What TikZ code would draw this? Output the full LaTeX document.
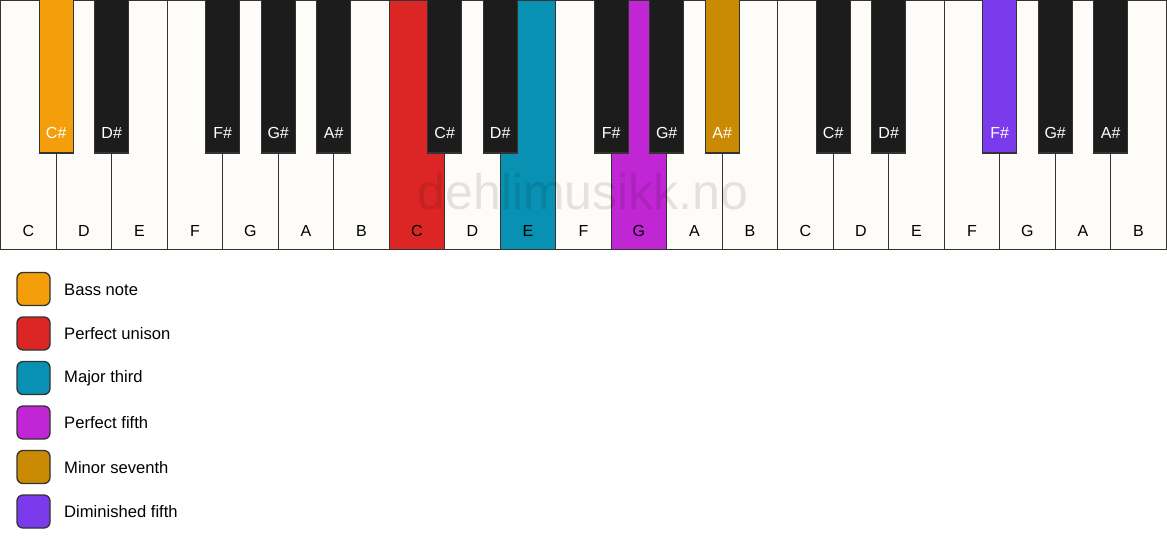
\documentclass[tikz,border=0pt]{standalone}
\usepackage{fontspec}
\setmainfont{Liberation Sans}
\definecolor{keywhite}{HTML}{FDFCF8}
\definecolor{keyblack}{HTML}{1C1C1C}
\definecolor{keyline}{HTML}{333333}
\definecolor{bass}{HTML}{F59E0B}
\definecolor{unison}{HTML}{DC2626}
\definecolor{third}{HTML}{0891B2}
\definecolor{fifth}{HTML}{C026D3}
\definecolor{seventh}{HTML}{CA8A04}
\definecolor{dimfifth}{HTML}{7C3AED}
\begin{document}
\begin{tikzpicture}[x=1pt,y=-1pt,
  whitekey/.style={draw=keyline, line width=1.4pt, minimum width=55.5pt, minimum height=249.5pt, anchor=north west, inner sep=0pt, outer sep=0pt},
  blackkey/.style={draw=keyline, line width=1.4pt, minimum width=34pt, minimum height=154pt, anchor=north, inner sep=0pt, outer sep=0pt},
  wlabel/.style={font=\fontsize{16}{18}\selectfont, text=black, inner sep=0pt},
  blabel/.style={font=\fontsize{16}{18}\selectfont, text=white, inner sep=0pt},
  legbox/.style={draw=keyline, line width=1.3pt, rounded corners=6pt, minimum width=33pt, minimum height=33pt, inner sep=0pt},
  legtext/.style={font=\fontsize{16.6}{19}\selectfont, anchor=west, inner sep=0pt},
  watermark/.style={font=\fontsize{50}{56}\selectfont, text=black, text opacity=0.10, inner sep=0pt, anchor=base}
]
\useasboundingbox (0,0) rectangle (1167,550);
\fill[white] (0,0) rectangle (1167,550);
% white keys
\foreach \n/\c [count=\i from 0] in {C/keywhite,D/keywhite,E/keywhite,F/keywhite,G/keywhite,A/keywhite,B/keywhite,
  C/unison,D/keywhite,E/third,F/keywhite,G/fifth,A/keywhite,B/keywhite,
  C/keywhite,D/keywhite,E/keywhite,F/keywhite,G/keywhite,A/keywhite,B/keywhite}{
  \node[whitekey, fill=\c] (w\i) at (\i*55.5+0.7,0) {};
  \node[wlabel] (wl\i) at (\i*55.5+28.4,230.5) {\n};
}
% watermark
\node[watermark] (wm) at (583,209) {dehlimusikk.no};
% black keys
\foreach \b/\n/\c in {1/C\#/bass,2/D\#/keyblack,4/F\#/keyblack,5/G\#/keyblack,6/A\#/keyblack,
  8/C\#/keyblack,9/D\#/keyblack,11/F\#/keyblack,12/G\#/keyblack,13/A\#/seventh,
  15/C\#/keyblack,16/D\#/keyblack,18/F\#/dimfifth,19/G\#/keyblack,20/A\#/keyblack}{
  \node[blackkey, fill=\c] (b\b) at (\b*55.5+0.7,-1) {};
  \node[blabel] (bl\b) at (\b*55.5+0.7,133) {\n};
}
% legend
\foreach \c/\t [count=\k from 0] in {bass/Bass note,unison/Perfect unison,third/Major third,fifth/Perfect fifth,seventh/Minor seventh,dimfifth/Diminished fifth}{
  \node[legbox, fill=\c] (lb\k) at (33.5,289+\k*44.5) {};
  \node[legtext] (lt\k) at (64,289.5+\k*44.5) {\t};
}
\end{tikzpicture}
\end{document}
